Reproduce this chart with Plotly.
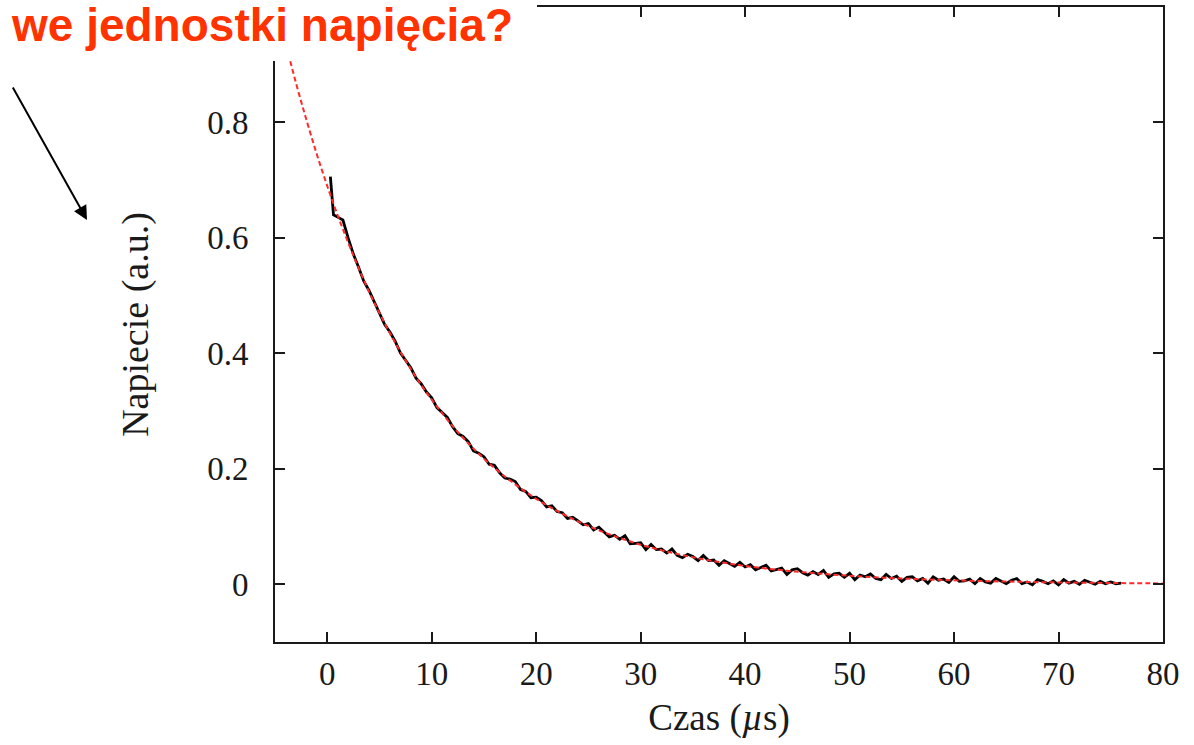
import numpy as np
import plotly.graph_objects as go

# ---- data ----
# measured signal (black): time in microseconds, voltage in a.u.
t_meas = [0.3, 0.6] + list(np.round(np.arange(1.0, 76.01, 0.5), 2))
v_meas = [0.706, 0.640,
    # 1.0 .. 9.5
    0.636, 0.631, 0.600, 0.572, 0.549, 0.525, 0.509, 0.489, 0.471, 0.450,
    0.437, 0.421, 0.401, 0.389, 0.375, 0.357, 0.347, 0.333,
    # 10.0 .. 24.5
    0.323, 0.306, 0.297, 0.289, 0.273, 0.261, 0.256, 0.247, 0.231, 0.227,
    0.221, 0.208, 0.206, 0.193, 0.184, 0.182, 0.178, 0.164, 0.161, 0.150,
    0.151, 0.145, 0.134, 0.136, 0.126, 0.124, 0.114, 0.116, 0.110, 0.103,
    # 25.0 .. 76.0
    0.105, 0.094, 0.099, 0.091, 0.082, 0.085, 0.078, 0.084, 0.070, 0.071,
    0.072, 0.060, 0.069, 0.060, 0.061, 0.054, 0.061, 0.050, 0.046, 0.052,
    0.048, 0.041, 0.050, 0.041, 0.042, 0.033, 0.041, 0.036, 0.031, 0.038,
    0.030, 0.034, 0.025, 0.029, 0.033, 0.023, 0.025, 0.028, 0.017, 0.025,
    0.027, 0.020, 0.016, 0.022, 0.017, 0.024, 0.012, 0.018, 0.019, 0.012,
    0.019, 0.008, 0.016, 0.013, 0.018, 0.010, 0.008, 0.017, 0.010, 0.014,
    0.005, 0.012, 0.013, 0.006, 0.010, 0.002, 0.013, 0.007, 0.009, 0.003,
    0.013, 0.005, 0.006, 0.009, 0.001, 0.010, 0.004, 0.002, 0.010, 0.006,
    0.001, 0.007, 0.010, 0.001, 0.004, -0.001, 0.008, 0.005, 0.001, 0.006,
    -0.001, 0.008, 0.002, 0.005, 0.000, 0.007, 0.003, 0.000, 0.005, 0.001,
    0.004, 0.001, 0.002]

# exponential fit (red dashed)
t_fit = [-5, -4, -3, -2, -1, 0, 1, 2, 3, 4, 5, 6, 7, 8, 9, 10, 12, 14, 16, 18,
         20, 22, 24, 26, 28, 30, 32, 34, 36, 38, 40, 43, 46, 50, 55, 60, 65,
         70, 75, 80]
v_fit = [1.014, 0.939, 0.869, 0.805, 0.745, 0.690, 0.639, 0.592, 0.548, 0.507,
         0.470, 0.435, 0.403, 0.373, 0.345, 0.320, 0.274, 0.235, 0.2015, 0.173,
         0.148, 0.127, 0.109, 0.0934, 0.0801, 0.0686, 0.0589, 0.0505, 0.0433,
         0.0371, 0.0318, 0.0253, 0.0201, 0.0147, 0.0100, 0.0068, 0.0047,
         0.0032, 0.0022, 0.0015]

x_ticks = [0, 10, 20, 30, 40, 50, 60, 70, 80]
y_ticks = [0, 0.2, 0.4, 0.6, 0.8]
y_tick_text = ["0", "0.2", "0.4", "0.6", "0.8"]

title_text = "we jednostki napięcia?"
x_title = "Czas (<i>µ</i>s)"
y_title = "Napiecie (a.u.)"

# ---- figure (body margin removed by post_script, so figure coords = page) ----
W, H = 1194, 745
L, R, T, B = 275, 31, 7, 103
pw, ph = W - L - R, H - T - B

def px(x_page):
    return (x_page - L) / pw

def py(y_page):
    return (H - B - y_page) / ph

serif = "Liberation Serif, Times New Roman, serif"
ink = "#1a1a1a"

fig = go.Figure()
fig.add_trace(go.Scatter(x=t_meas, y=v_meas, mode="lines",
                         line=dict(color="black", width=2.8),
                         showlegend=False))
fig.add_trace(go.Scatter(x=t_fit, y=v_fit, mode="lines", line_shape="spline",
                         line=dict(color="#ff2a2a", width=2, dash="5px,3px"),
                         showlegend=False))

axis_common = dict(showline=True, linecolor=ink, linewidth=2, mirror="ticks",
                   ticks="inside", ticklen=10, tickwidth=1.5, tickcolor=ink,
                   showgrid=False, zeroline=False,
                   tickfont=dict(family=serif, size=33, color=ink))

fig.update_layout(
    width=W, height=H,
    margin=dict(l=L, r=R, t=T, b=B, autoexpand=False),
    plot_bgcolor="white", paper_bgcolor="white",
    xaxis=dict(range=[-5, 80], tickvals=x_ticks, ticklabelstandoff=1,
               title=dict(text=x_title, font=dict(family=serif, size=37, color=ink),
                          standoff=14),
               **axis_common),
    yaxis=dict(range=[-0.1, 1.0], tickvals=y_ticks, ticktext=y_tick_text,
               ticklabelstandoff=18,
               title=dict(text=y_title, font=dict(family=serif, size=38, color=ink),
                          standoff=47),
               **axis_common),
)

# white box covering the top-left corner (slide overlay)
fig.add_shape(type="rect", xref="paper", yref="paper",
              x0=px(-20), x1=px(537), y0=py(61), y1=py(-20),
              fillcolor="white", line=dict(width=0), layer="above")

# orange headline text
fig.add_annotation(text="<b>" + title_text + "</b>", xref="paper", yref="paper",
                   x=px(515), y=py(25), xanchor="right", yanchor="middle",
                   showarrow=False,
                   font=dict(family="Liberation Sans, Arial, sans-serif", size=46,
                             color="#ff3300"))

# arrow pointing to the axis label
fig.add_annotation(text="", xref="paper", yref="paper",
                   x=px(87), y=py(220), ax=12 - 87, ay=86 - 220,
                   showarrow=True, arrowhead=2, arrowsize=1.4, arrowwidth=2,
                   arrowcolor="black")

fig.write_html("out.html",
               config={"displayModeBar": False},
               post_script="document.body.style.margin='0px';"
                           "document.body.style.overflow='hidden';")
